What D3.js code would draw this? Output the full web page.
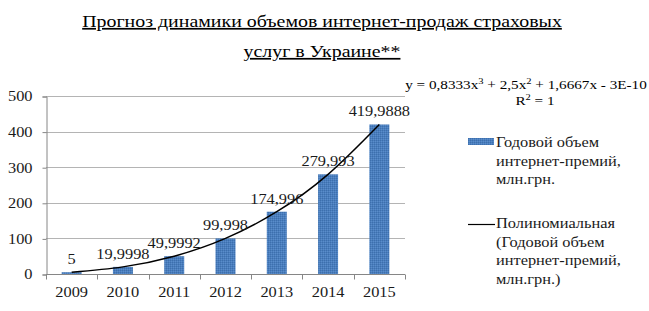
<!DOCTYPE html>
<html lang="ru">
<head>
    <meta charset="UTF-8">
    <title>Прогноз динамики</title>
    <script type="text/javascript" src="https://d3js.org/d3.v7.min.js"></script>
    <style>
        body{ margin:0; background:#fff; }
    </style>
</head>
<body>
<script type="text/javascript">
    // данные
    var years=["2009","2010","2011","2012","2013","2014","2015"];
    var values=[5,19.9998,49.9992,99.998,174.996,279.993,419.9888];
    var labels=["5","19,9998","49,9992","99,998","174,996","279,993","419,9888"];
    var yTicks=[0,100,200,300,400,500];
    var seriesName=["Годовой объем","интернет-премий,","млн.грн."];
    var trendName=["Полиномиальная","(Годовой объем","интернет-премий,","млн.грн.)"];

    var width=649, height=311;
    var mLeft=46, mRight=405, mTop=96, mBottom=274;
    var serif="'Liberation Serif'";
    var SX=1.17; // картинка в оригинале немного растянута по горизонтали

    var svg=d3.select("body").append("svg")
        .attr("width",width)
        .attr("height",height)
        .style("font-family",serif);

    // текст с горизонтальным растяжением
    function stext(parent,x,y,size,anchor,str){
        return parent.append("text")
            .attr("transform","translate("+x+","+y+") scale("+SX+",1)")
            .attr("text-anchor",anchor)
            .attr("font-size",size)
            .attr("fill","#1a1a1a")
            .style("font-family",serif)
            .text(str);
    }

    // заливка столбцов (мелкая штриховка как в исходнике)
    var pat=svg.append("defs").append("pattern")
        .attr("id","dots").attr("width",2).attr("height",2)
        .attr("patternUnits","userSpaceOnUse");
    pat.append("rect").attr("width",2).attr("height",2).attr("fill","#4a7ebc");
    pat.append("rect").attr("width",1).attr("height",1).attr("fill","#3d6fae");
    pat.append("rect").attr("x",1).attr("y",1).attr("width",1).attr("height",1).attr("fill","#5a8ccb");

    var x=d3.scaleBand().domain(years).range([mLeft,mRight]).paddingInner(0.61).paddingOuter(0.305);
    var xb=d3.scaleBand().domain(years).range([mLeft,mRight]);
    var y=d3.scaleLinear().domain([0,500]).range([mBottom,mTop]);

    // заголовок
    var title=["Прогноз динамики объемов интернет-продаж страховых","услуг в Украине**"];
    title.forEach(function(t,i){
        stext(svg,322,27+i*30,17,"middle",t)
            .attr("fill","#000")
            .attr("text-decoration","underline");
    });

    // сетка
    svg.append("g").selectAll("line")
        .data(yTicks.slice(1))
        .enter().append("line")
        .attr("x1",mLeft).attr("x2",mRight)
        .attr("y1",function(d){return Math.round(y(d))+0.5;})
        .attr("y2",function(d){return Math.round(y(d))+0.5;})
        .attr("stroke","#b4b4b4").attr("stroke-width",1);

    // ось Y
    var gy=svg.append("g").attr("transform","translate("+(mLeft+0.5)+",0.5)")
        .call(d3.axisLeft(y).tickValues(yTicks).tickSize(4).tickPadding(14));
    gy.select(".domain").attr("stroke","#868686");
    gy.selectAll(".tick line").attr("stroke","#868686");
    gy.attr("font-family",null).attr("font-size",null);
    gy.selectAll(".tick text")
        .attr("x",-14/SX)
        .attr("transform","scale("+SX+",1)")
        .attr("font-size",14).attr("fill","#1a1a1a")
        .style("font-family",serif);

    // ось X
    var gx=svg.append("g").attr("transform","translate(0,"+(mBottom+0.5)+")");
    gx.append("line").attr("x1",mLeft).attr("x2",mRight).attr("stroke","#868686");
    gx.selectAll("line.tk")
        .data(years.concat(["end"]))
        .enter().append("line").attr("class","tk")
        .attr("x1",function(d,i){return i<years.length?Math.round(xb(d))+0.5:mRight+0.5;})
        .attr("x2",function(d,i){return i<years.length?Math.round(xb(d))+0.5:mRight+0.5;})
        .attr("y1",0).attr("y2",5).attr("stroke","#868686");
    years.forEach(function(d){
        stext(gx,xb(d)+xb.bandwidth()/2,22,14,"middle",d);
    });

    // столбцы
    svg.append("g").selectAll("rect")
        .data(values)
        .enter().append("rect")
        .attr("x",function(d,i){return x(years[i]);})
        .attr("width",x.bandwidth())
        .attr("y",function(d){return y(d);})
        .attr("height",function(d){return mBottom-y(d);})
        .attr("fill","url(#dots)");

    // линия тренда
    var line=d3.line()
        .x(function(d,i){return xb(years[i])+xb.bandwidth()/2;})
        .y(function(d){return y(d);})
        .curve(d3.curveNatural);
    svg.append("path")
        .datum(values)
        .attr("d",line)
        .attr("fill","none")
        .attr("stroke","#000")
        .attr("stroke-width",1.5);

    // подписи данных
    var gl=svg.append("g");
    values.forEach(function(d,i){
        stext(gl,xb(years[i])+xb.bandwidth()/2,y(d)-8,14,"middle",labels[i]);
    });

    // уравнение тренда
    var eq=stext(svg,526,89,13,"middle","").attr("fill","#000");
    eq.append("tspan").text("y = 0,8333x");
    eq.append("tspan").attr("font-size",9).attr("dy",-5).text("3");
    eq.append("tspan").attr("dy",5).text(" + 2,5x");
    eq.append("tspan").attr("font-size",9).attr("dy",-5).text("2");
    eq.append("tspan").attr("dy",5).text(" + 1,6667x - 3E-10");
    var r2=stext(svg,535,105,13,"middle","").attr("fill","#000");
    r2.append("tspan").text("R");
    r2.append("tspan").attr("font-size",9).attr("dy",-5).text("2");
    r2.append("tspan").attr("dy",5).text(" = 1");

    // легенда
    var leg=svg.append("g");
    leg.append("rect").attr("x",468).attr("y",138).attr("width",26).attr("height",7)
        .attr("fill","url(#dots)");
    seriesName.forEach(function(t,i){
        stext(leg,496,147+i*18.5,14,"start",t);
    });
    leg.append("line").attr("x1",468).attr("x2",495).attr("y1",224.5).attr("y2",224.5)
        .attr("stroke","#000").attr("stroke-width",1.2);
    trendName.forEach(function(t,i){
        stext(leg,496,228+i*18.5,14,"start",t);
    });
</script>
</body>
</html>
